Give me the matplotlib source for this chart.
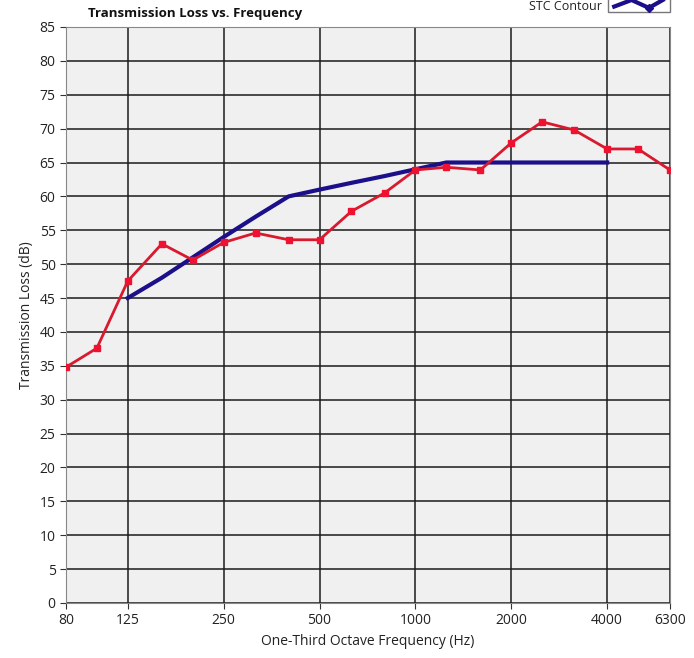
import numpy as np
import matplotlib.pyplot as plt
from matplotlib.patches import Rectangle
from matplotlib.lines import Line2D

plt.rcParams['font.family'] = ['Open Sans', 'DejaVu Sans']

# one-third octave bands and measured transmission loss
freqs = [80, 100, 125, 160, 200, 250, 315, 400, 500, 630, 800, 1000,
         1250, 1600, 2000, 2500, 3150, 4000, 5000, 6300]
tl = [34.8, 37.6, 47.5, 53.0, 50.6, 53.2, 54.6, 53.6, 53.6, 57.8, 60.5, 63.9,
      64.3, 63.9, 67.9, 71.0, 69.8, 67.0, 67.0, 63.9]

# STC contour (STC 61)
stc_freqs = [125, 160, 200, 250, 315, 400, 500, 630, 800, 1000,
             1250, 1600, 2000, 2500, 3150, 4000]
stc_vals = [45, 48, 51, 54, 57, 60, 61, 62, 63, 64,
            65, 65, 65, 65, 65, 65]

xticks = [80, 125, 250, 500, 1000, 2000, 4000, 6300]
yticks = list(range(0, 90, 5))

fig = plt.figure(figsize=(6.94, 6.58), dpi=100)
ax = fig.add_axes([0.0951, 0.0836, 0.8703, 0.8754])
ax.set_facecolor('#f0f0f0')

ax.plot(stc_freqs, stc_vals, color='#1c0f8a', linewidth=3, zorder=3)
ax.plot(freqs, tl, color='#d8192e', linewidth=2, marker='s', markersize=4.5,
        markerfacecolor='#ee1230', markeredgecolor='#ee1230', zorder=4)

ax.set_xscale('log')
ax.set_xlim(80, 6300)
ax.set_ylim(0, 85)
ax.set_xticks(xticks)
ax.set_xticklabels([str(x) for x in xticks])
ax.xaxis.set_minor_locator(plt.NullLocator())
ax.set_yticks(yticks)
ax.grid(True, color='#1a1a1a', linewidth=1.1)
ax.set_axisbelow(True)
for s in ax.spines.values():
    s.set_color('#888888')
ax.tick_params(axis='both', labelsize=10, length=4, color='#333333',
               labelcolor='#222222')

ax.set_xlabel('One-Third Octave Frequency (Hz)', fontsize=10, color='#222222')
ax.set_ylabel('Transmission Loss (dB)', fontsize=10, color='#222222')
fig.text(0.127, 0.979, 'Transmission Loss vs. Frequency', fontsize=9.5,
         fontweight='bold', ha='left', va='center', color='#111111')

# legend at the top right
fig.text(0.868, 0.99, 'STC Contour', fontsize=9, ha='right', va='center',
         color='#222222')
fig.patches.append(Rectangle((0.876, 0.982), 0.089, 0.04, transform=fig.transFigure,
                             facecolor='white', edgecolor='#777777', linewidth=1))
fig.lines.append(Line2D([0.885, 0.91, 0.935, 0.955], [0.99, 1.0, 0.988, 1.0],
                        transform=fig.transFigure, color='#1c0f8a', linewidth=3,
                        marker='D', markersize=4, markevery=[2]))

fig.savefig('out.png', dpi=100)
